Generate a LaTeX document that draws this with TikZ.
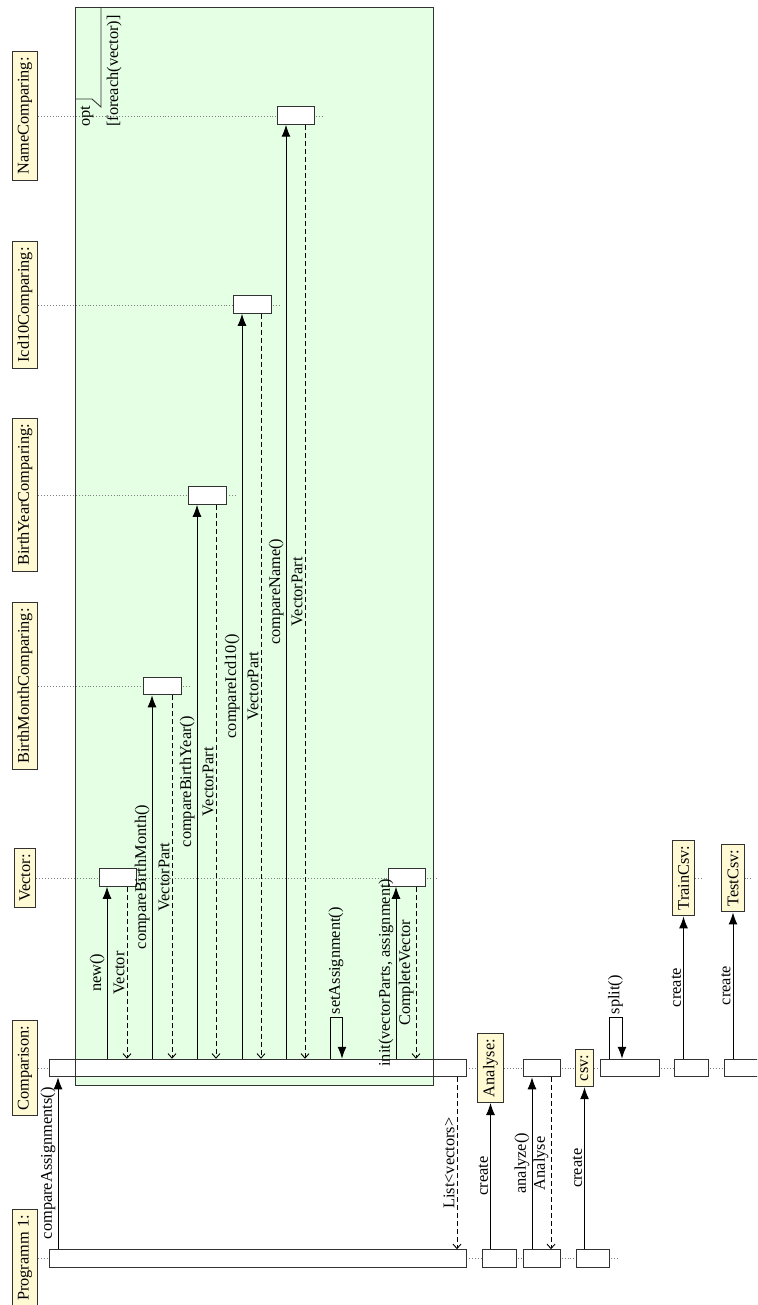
\documentclass[tikz,border=0pt]{standalone}
\usepackage{fontspec}
\setmainfont{Liberation Serif}
\usetikzlibrary{arrows.meta}
\definecolor{partfill}{RGB}{255,250,212}
\definecolor{optgreen}{RGB}{229,255,229}
\definecolor{edgegray}{RGB}{50,50,50}

% activation bar: name, left x, right x, centre y
\newcommand\mkbar[4]{\node[actbox, minimum width={(#3-#2)*1bp}] (#1) at ({(#2+#3)/2},#4) {};}

\begin{document}
\begin{tikzpicture}[x=1bp, y=-1bp,
  every node/.style={font=\fontsize{16.4}{19}\selectfont},
  part/.style={draw=edgegray, fill=partfill, rotate=90, inner sep=5.5bp, line width=1bp},
  actbox/.style={draw=edgegray, fill=white, minimum height=17.5bp, inner sep=0pt, line width=1bp},
  life/.style={dotted, gray, line width=0.9bp},
  call/.style={-{Latex[length=12bp,width=9bp]}, line width=1bp},
  reply/.style={dash pattern=on 5bp off 3bp, -{Straight Barb[length=4.5bp,width=8bp]}, line width=0.9bp},
  lbl/.style={rotate=90, anchor=south, inner sep=0.5bp, outer sep=2bp},
  looplbl/.style={rotate=90, anchor=west, inner sep=0.5bp, outer sep=3bp}]

\useasboundingbox (0,0) rectangle (757,1305);
\clip (0,0) rectangle (757,1305);
\fill[white] (0,0) rectangle (757,1305);

% combined fragment background
\fill[optgreen] (75,7) rectangle (433,1085);

% participants
\node[part] (prog) at (25,1258) {Programm 1:};
\node[part] (cmp)  at (25,1068) {Comparison:};
\node[part] (vec)  at (25,878)  {Vector:};
\node[part] (bmc)  at (25,686)  {BirthMonthComparing:};
\node[part] (byc)  at (25,495)  {BirthYearComparing:};
\node[part] (icd)  at (25,305)  {Icd10Comparing:};
\node[part] (nmc)  at (25,116)  {NameComparing:};
\node[part] (ana)  at (490.5,1068) {Analyse:};
\node[part] (csv)  at (584.5,1068) {csv:};
\node[part] (trn)  at (683.5,878) {TrainCsv:};
\node[part] (tst)  at (733,878) {TestCsv:};

% lifelines
\draw[life] (prog.south) -- (619,1258);
\draw[life] (cmp.south) -- (ana.north);
\draw[life] (ana.south) -- (csv.north);
\draw[life] (csv.south) -- (775,1068);
\draw[life] (vec.south) -- (436,878);
\draw[life] (bmc.south) -- (191,686);
\draw[life] (byc.south) -- (236,495);
\draw[life] (icd.south) -- (281,305);
\draw[life] (nmc.south) -- (324,116);
\draw[life] (trn.south) -- (703,878);
\draw[life] (tst.south) -- (753,878);

% activation bars
\mkbar{pb1}{49}{466}{1258.5}
\mkbar{pb2}{482}{516}{1258.5}
\mkbar{pb3}{523}{560}{1258.5}
\mkbar{pb4}{576}{609}{1258.5}
\mkbar{cb1}{49}{466}{1068}
\mkbar{ab1}{523}{560}{1068}
\mkbar{sb1}{600}{659}{1068}
\mkbar{sb2}{674}{708}{1068}
\mkbar{sb3}{724}{775}{1068}
\mkbar{vb1}{99}{136}{877.5}
\mkbar{vb2}{388}{425}{877.5}
\mkbar{mb1}{143}{181}{686}
\mkbar{yb1}{188}{226}{495.5}
\mkbar{ib1}{233}{271}{304.5}
\mkbar{nb1}{277}{314}{115.5}

% messages
\draw[call] (58,0 |- pb1.north) -- (58,0 |- cb1.south) node[midway,lbl] {compareAssignments()};
\draw[call] (107,0 |- cb1.north) -- (107,0 |- vb1.south) node[midway,lbl] {new()};
\draw[reply] (127,0 |- vb1.south) -- (127,0 |- cb1.north) node[midway,lbl] {Vector};
\draw[call] (152,0 |- cb1.north) -- (152,0 |- mb1.south) node[midway,lbl] {compareBirthMonth()};
\draw[reply] (172,0 |- mb1.south) -- (172,0 |- cb1.north) node[midway,lbl] {VectorPart};
\draw[call] (197,0 |- cb1.north) -- (197,0 |- yb1.south) node[midway,lbl] {compareBirthYear()};
\draw[reply] (216,0 |- yb1.south) -- (216,0 |- cb1.north) node[midway,lbl] {VectorPart};
\draw[call] (242,0 |- cb1.north) -- (242,0 |- ib1.south) node[midway,lbl] {compareIcd10()};
\draw[reply] (261,0 |- ib1.south) -- (261,0 |- cb1.north) node[midway,lbl] {VectorPart};
\draw[call] (286,0 |- cb1.north) -- (286,0 |- nb1.south) node[midway,lbl] {compareName()};
\draw[reply] (305,0 |- nb1.south) -- (305,0 |- cb1.north) node[midway,lbl] {VectorPart};
\draw[call] (330,0 |- cb1.north) -- ++(0,-41) -- ++(12,0) node[midway,looplbl] {setAssignment()} -- (342,0 |- cb1.north);
\draw[call] (396,0 |- cb1.north) -- (396,0 |- vb2.south) node[midway,lbl] {init(vectorParts, assignment)};
\draw[reply] (416,0 |- vb2.south) -- (416,0 |- cb1.north) node[midway,lbl] {CompleteVector};
\draw[reply] (457,0 |- cb1.south) -- (457,0 |- pb1.north) node[midway,lbl] {List<vectors>};
\draw[call] (ana.west |- pb2.north) -- (ana.west) node[midway,lbl] {create};
\draw[call] (532,0 |- pb3.north) -- (532,0 |- ab1.south) node[midway,lbl] {analyze()};
\draw[reply] (551,0 |- ab1.south) -- (551,0 |- pb3.north) node[midway,lbl] {Analyse};
\draw[call] (csv.west |- pb4.north) -- (csv.west) node[midway,lbl] {create};
\draw[call] (609,0 |- sb1.north) -- ++(0,-41) -- ++(13,0) node[midway,looplbl] {split()} -- (622,0 |- sb1.north);
\draw[call] (trn.west |- sb2.north) -- (trn.west) node[midway,lbl] {create};
\draw[call] (tst.west |- sb3.north) -- (tst.west) node[midway,lbl] {create};

% combined fragment frame and its tab
\draw[edgegray, line width=0.9bp] (75,7) rectangle (433,1085);
\draw[edgegray, line width=0.9bp] (101,7) -- (101,107) -- (92,99) -- (75,99);
\node[rotate=90, anchor=west, inner sep=0pt] (optname) at (87,127) {opt};
\node[rotate=90, anchor=west, inner sep=0pt] (optguard) at (114,127) {[foreach(vector)]};
\end{tikzpicture}
\end{document}
